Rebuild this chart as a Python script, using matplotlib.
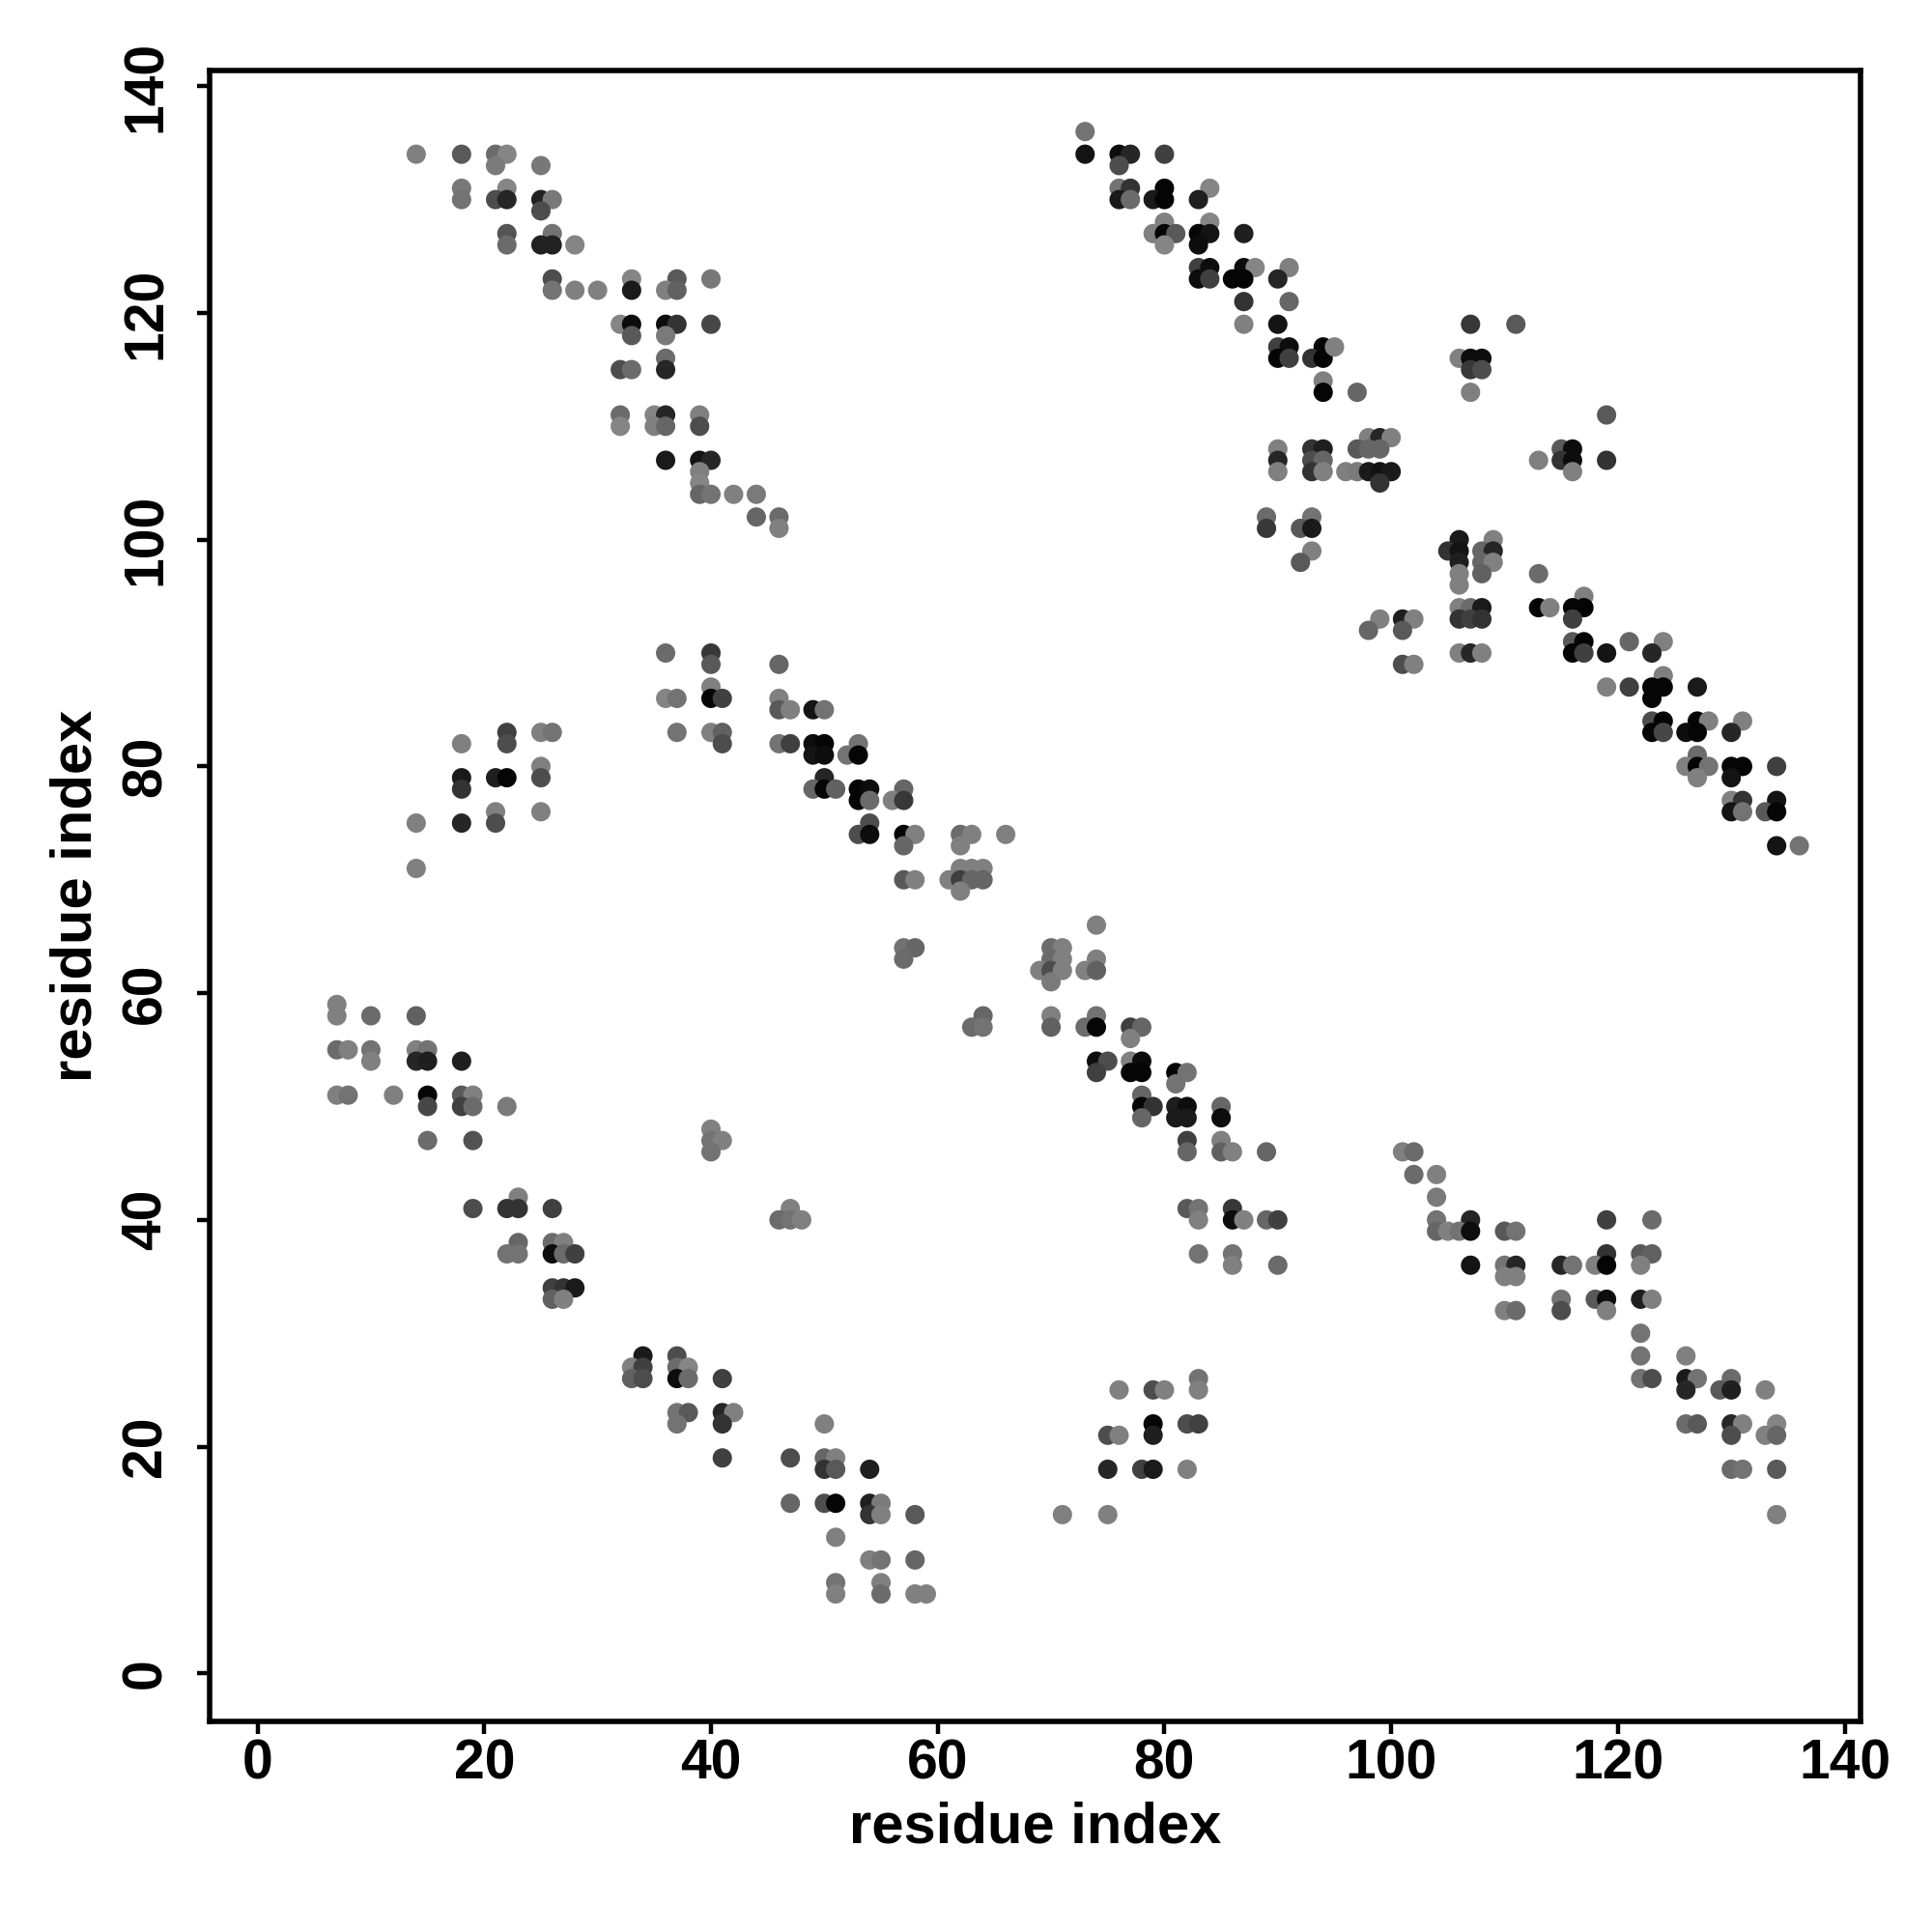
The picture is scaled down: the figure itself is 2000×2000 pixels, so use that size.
import numpy as np
import matplotlib
matplotlib.use("Agg")
import matplotlib.pyplot as plt

# predicted contacts: residue i, residue j, grey level (0 = black)
res_i = [
    14, 18, 21, 22, 21, 25, 18, 22, 18, 21, 22, 25, 26, 25, 22, 26, 22, 25, 26, 28,
    26, 33, 37, 40, 26, 28, 30, 33, 36, 37, 32, 33, 36, 37, 40, 33, 36, 36, 32, 33,
    36, 32, 35, 36, 39, 32, 35, 36, 39, 36, 39, 40, 39, 39, 39, 40, 42, 44, 44, 46, 46,
    73, 73, 76, 77, 80, 76, 76, 77, 80, 84, 76, 77, 79, 80, 83, 80, 84, 79, 80, 81,
    83, 84, 87, 80, 83, 83, 84, 87, 88, 91, 83, 84, 86, 87, 90, 87, 91, 87, 90, 90,
    91, 94, 90, 91, 93, 94, 94, 94, 90, 93, 94, 90, 93, 94, 90, 93, 94,
    107, 111, 95, 106, 107, 108, 107, 108, 97, 107, 119, 98, 99, 100, 97, 98, 99, 115,
    116, 113, 115, 116, 119, 96, 97, 98, 99, 100, 116, 99,
    36, 40, 40, 46, 40, 36, 37, 40, 41, 46, 46, 47, 49, 50, 22, 25, 26, 37, 40, 41,
    18, 22, 41, 46, 47, 49, 50, 49, 50, 25, 18, 21, 22, 25, 50, 18, 49, 50, 21, 25,
    14, 18, 21,
    89, 93, 89, 92, 93, 93, 92, 53, 52, 53, 51, 53, 54, 57, 53, 54, 56, 57, 54, 53,
    54, 57, 58, 62, 63, 66, 57, 62,
    106, 109, 105, 106, 108, 109, 106, 108, 109, 106, 108, 113, 106, 117, 106, 107,
    108, 113, 114, 116, 117, 99, 101, 102, 106, 107, 108, 116, 98, 101, 116, 117, 121,
    124, 106, 107, 108, 116, 117, 119, 123, 101, 102, 124, 119, 121, 123, 124, 127,
    123, 123, 124, 127, 128, 131, 123, 124, 126, 127, 130, 127, 126, 127, 128, 130,
    131, 134, 127, 130, 130, 131, 134, 130, 131, 133, 134, 134, 136,
    14, 7, 7, 10, 14, 7, 8, 10, 14, 15, 10, 14, 15, 18, 7, 8, 12, 15, 18, 19, 15, 18,
    19, 22, 15, 19, 40, 40, 41, 40, 23, 19, 22, 23, 26, 47, 46, 47, 48,
    62, 63, 64, 57, 58, 61, 62, 63, 64, 62, 74, 57, 58, 70, 71, 57, 70, 71, 74, 69,
    70, 71, 73, 74, 70, 64, 70, 74, 63, 64, 70, 73, 74, 77, 78, 77, 74, 75, 77, 78,
    74, 77, 78, 81, 82, 81, 78, 78, 79, 81, 82, 85, 78, 81, 82, 85, 82, 85, 82, 85,
    86, 89, 82, 83, 86, 83, 86, 87, 89, 90,
    101, 102, 102, 104, 104, 104, 107, 119, 123,
    23, 26, 27, 22, 23, 26, 27, 28, 26, 27, 28, 26, 27, 34, 37, 33, 34, 37, 38, 33,
    34, 37, 38, 41, 37, 38, 41, 42, 37, 41, 41, 47, 47,
    83, 86, 86, 90, 83, 76, 79, 80, 83, 79, 82, 83, 75, 76, 79, 75, 78, 79, 82, 71,
    75, 50, 50, 51, 50, 51, 54, 50, 51, 54, 55, 54, 55, 58, 51, 54, 55, 58, 51, 55,
    51, 55, 58, 59,
    104, 105, 106, 107, 110, 111, 119, 122, 123, 107, 110, 111, 115, 116, 118, 119,
    122, 110, 111, 115, 118, 119, 122, 123, 110, 111, 115, 119, 122, 122, 126, 122,
    123, 126, 127, 130, 126, 129, 130, 133, 126, 127, 130, 131, 134, 130, 133, 134,
    130, 131, 134, 134,
]
res_j = [
    134, 134, 134, 134, 133, 133, 131, 131, 130, 130, 130, 130, 130, 129, 127, 127,
    126, 126, 126, 126, 123, 123, 123, 123, 122, 122, 122, 122, 122, 122, 119, 119,
    119, 119, 119, 118, 118, 116, 115, 115, 115, 111, 111, 111, 111, 110, 110, 110,
    110, 107, 107, 107, 106, 105, 104, 104, 104, 104, 102, 102, 101,
    136, 134, 134, 134, 134, 133, 131, 131, 131, 131, 130, 130, 130, 130, 130, 128,
    128, 127, 127, 127, 127, 127, 127, 126, 126, 124, 124, 124, 124, 124, 123, 123,
    123, 123, 123, 121, 121, 119, 119, 117, 117, 117, 116, 116, 116, 116, 114, 113,
    108, 108, 108, 107, 107, 107, 106, 106, 106,
    119, 119, 117, 116, 116, 116, 115, 115, 113, 113, 111, 109, 109, 109, 108, 108,
    108, 108, 108, 107, 107, 107, 107, 106, 106, 106, 106, 106, 106, 105,
    90, 90, 89, 89, 87, 86, 86, 86, 86, 86, 85, 85, 85, 85, 83, 83, 83, 83, 83, 83,
    82, 82, 82, 82, 82, 82, 82, 81, 81, 80, 79, 79, 79, 79, 79, 78, 78, 78, 76, 76,
    75, 75, 75,
    102, 102, 101, 101, 101, 99, 98, 82, 81, 81, 78, 78, 78, 78, 77, 77, 77, 77, 75,
    74, 74, 74, 74, 74, 74, 74, 73, 73,
    100, 100, 99, 99, 99, 99, 98, 98, 98, 97, 97, 97, 96, 95, 94, 94, 94, 94, 94, 94,
    94, 93, 93, 93, 93, 93, 93, 93, 92, 92, 91, 91, 91, 91, 90, 90, 90, 90, 90, 90,
    90, 89, 89, 88, 87, 87, 87, 87, 87, 86, 84, 84, 84, 84, 84, 83, 83, 83, 83, 83,
    81, 80, 80, 80, 80, 80, 80, 79, 79, 77, 77, 77, 76, 76, 76, 76, 73, 73,
    71, 59, 58, 58, 58, 55, 55, 55, 55, 55, 54, 54, 54, 54, 51, 51, 51, 51, 51, 51,
    50, 50, 50, 50, 47, 47, 48, 47, 47, 46, 42, 41, 41, 41, 41, 41, 40, 40, 40,
    71, 71, 71, 70, 70, 70, 70, 70, 70, 69, 66, 64, 64, 64, 64, 63, 63, 63, 63, 62,
    62, 62, 62, 62, 61, 58, 58, 58, 57, 57, 57, 57, 57, 57, 57, 56, 54, 54, 54, 54,
    53, 53, 53, 53, 53, 52, 51, 50, 50, 50, 50, 50, 49, 49, 49, 49, 47, 47, 46, 46,
    46, 46, 41, 41, 41, 40, 40, 40, 40, 40,
    46, 46, 44, 44, 42, 40, 40, 40, 40,
    38, 38, 38, 37, 37, 37, 37, 37, 34, 34, 34, 33, 33, 28, 28, 27, 27, 27, 27, 26,
    26, 26, 26, 26, 23, 23, 23, 23, 22, 22, 19, 19, 15,
    37, 37, 36, 36, 26, 25, 25, 25, 25, 22, 22, 22, 21, 21, 21, 18, 18, 18, 18, 14,
    14, 22, 19, 19, 18, 18, 18, 15, 15, 15, 15, 14, 14, 14, 12, 10, 10, 10, 8, 8,
    7, 7, 7, 7,
    39, 39, 39, 39, 39, 39, 37, 37, 37, 36, 36, 36, 36, 36, 36, 36, 36, 35, 35, 33,
    33, 33, 33, 33, 32, 32, 32, 32, 30, 28, 28, 26, 26, 26, 26, 26, 25, 25, 25, 25,
    22, 22, 22, 22, 22, 21, 21, 21, 18, 18, 18, 14,
]
shade = [
    .50, .35, .42, .52, .48, .47, .47, .52, .45, .30, .15, .13, .47, .30, .33, .45,
    .42, .13, .13, .52, .30, .52, .35, .47, .45, .50, .50, .10, .50, .38, .52, .05,
    .05, .20, .28, .35, .48, .42, .30, .42, .15, .42, .52, .15, .50, .52, .50, .40,
    .30, .10, .08, .15, .50, .52, .40, .45, .50, .48, .40, .42, .50,
    .45, .08, .05, .15, .25, .30, .45, .20, .02, .52, .10, .42, .10, .02, .12, .50,
    .52, .50, .02, .35, .02, .08, .12, .52, .05, .25, .05, .05, .52, .50, .05, .25,
    .02, .02, .15, .20, .40, .50, .08, .25, .05, .02, .02, .25, .20, .02, .50, .02,
    .50, .20, .12, .15, .30, .40, .50, .20, .50,
    .22, .35, .50, .50, .05, .05, .22, .30, .40, .50, .35, .50, .15, .50, .35, .40,
    .40, .35, .05, .50, .20, .05, .20, .50, .48, .10, .07, .10, .50, .20,
    .42, .22, .35, .40, .50, .52, .45, .02, .25, .50, .35, .50, .08, .45, .25, .50,
    .45, .45, .50, .38, .50, .30, .30, .45, .25, .05, .02, .08, .05, .50, .10, .12,
    .02, .30, .15, .20, .40, .02, .50, .50, .50, .15, .30,
    .42, .45, .22, .35, .10, .50, .35, .45, .45, .02, .38, .02, .05, .40, .02, .42,
    .50, .22, .30, .30, .05, .02, .50, .42, .50, .50, .40, .50,
    .10, .50, .20, .08, .40, .15, .12, .40, .50, .50, .38, .42, .50, .50, .50, .42,
    .10, .02, .50, .02, .02, .50, .12, .50, .20, .25, .20, .25, .40, .35, .35, .02,
    .40, .50, .50, .15, .50, .02, .25, .08, .15, .30, .50, .50, .50, .25, .02, .02,
    .10, .02, .30, .02, .02, .50, .50, .02, .28, .05, .02, .15, .42, .50, .02, .45,
    .02, .02, .25, .50, .08, .50, .20, .08, .08, .45, .35, .02, .08, .45,
    .50, .50, .50, .42, .38, .42, .50, .45, .50, .45, .50, .15, .12, .12, .50, .45,
    .50, .02, .35, .50, .28, .25, .42, .48, .42, .32, .50, .45, .50, .45, .50, .30,
    .20, .20, .25, .50, .42, .45, .50,
    .50, .50, .50, .35, .50, .50, .25, .40, .40, .50, .50, .45, .40, .42, .50, .42,
    .42, .50, .50, .50, .30, .50, .50, .38, .48, .40, .50, .45, .42, .45, .38, .42,
    .02, .25, .40, .50, .05, .30, .50, .05, .25, .02, .02, .02, .45, .45, .40, .02,
    .20, .12, .05, .40, .40, .10, .10, .05, .25, .50, .40, .38, .50, .40, .35, .45,
    .22, .50, .05, .50, .40, .25,
    .50, .42, .42, .50, .48, .45, .15, .25, .42,
    .40, .42, .50, .45, .45, .05, .42, .25, .25, .20, .10, .38, .50, .10, .30, .50,
    .25, .42, .52, .38, .30, .05, .42, .25, .45, .35, .15, .50, .45, .20, .25, .30,
    .40,
    .45, .45, .50, .42, .45, .50, .30, .50, .50, .02, .30, .25, .30, .50, .12, .15,
    .25, .10, .50, .50, .50, .50, .40, .50, .20, .35, .12, .30, .02, .12, .48, .20,
    .50, .35, .50, .50, .45, .40, .45, .50, .50, .42, .50, .50,
    .40, .50, .45, .05, .35, .45, .20, .35, .38, .08, .45, .15, .15, .45, .50, .02,
    .50, .50, .50, .45, .35, .05, .12, .50, .50, .42, .30, .50, .45, .45, .50, .45,
    .30, .10, .45, .42, .15, .35, .12, .50, .42, .35, .15, .50, .52, .30, .50, .40,
    .42, .45, .35, .50,
]

ticks = [0, 20, 40, 60, 80, 100, 120, 140]

n = min(len(res_i), len(res_j), len(shade))
colors = [(g, g, g) for g in shade[:n]]

fig = plt.figure(figsize=(10, 10), dpi=200)
ax = fig.add_axes([0.1084, 0.109, 0.8546, 0.8546])
ax.scatter(res_i[:n], res_j[:n], s=52, c=colors, edgecolors="none", zorder=3)

ax.set_xlim(-4.24, 141.4)
ax.set_ylim(-4.24, 141.4)
ax.set_xticks(ticks)
ax.set_yticks(ticks)
for sp in ax.spines.values():
    sp.set_linewidth(2.0)
    sp.set_color("black")

fnt = "Liberation Sans"
ax.tick_params(axis="both", direction="out", length=4.7, width=1.6, labelsize=20.5)
ax.tick_params(axis="x", pad=1.5)
ax.tick_params(axis="y", pad=9)
for lab in ax.get_xticklabels():
    lab.set_fontfamily(fnt)
    lab.set_fontweight("bold")
for lab in ax.get_yticklabels():
    lab.set_fontfamily(fnt)
    lab.set_fontweight("bold")
    lab.set_rotation(90)
    lab.set_va("center")

fig.text(0.5356, 0.054, "residue index", ha="center", va="center",
         fontsize=21.5, fontweight="bold", fontfamily=fnt)
fig.text(0.0395, 0.5364, "residue index", ha="center", va="center", rotation=90,
         fontsize=21.5, fontweight="bold", fontfamily=fnt)

fig.savefig("out.png", dpi=200, facecolor="white")
